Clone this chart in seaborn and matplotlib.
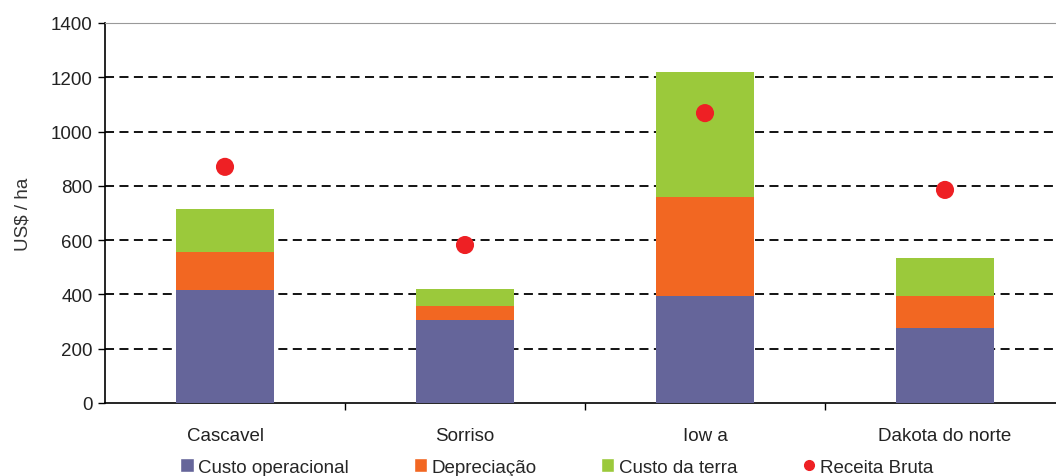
import numpy as np
import pandas as pd
import matplotlib
matplotlib.use('Agg')
import matplotlib.pyplot as plt
from matplotlib.patches import Patch
from matplotlib.lines import Line2D
import seaborn as sns

# data (US$ / ha)
regioes = ['Cascavel', 'Sorriso', 'Iow a', 'Dakota do norte']
custo_operacional = [415, 305, 395, 275]
depreciacao = [140, 53, 365, 120]
custo_terra = [160, 62, 460, 140]
receita_bruta = [870, 582, 1068, 785]

COR_OPER = '#65659a'
COR_DEPR = '#f26722'
COR_TERRA = '#9bc93b'
COR_REC = '#ee2024'

sns.set_style('white')
plt.rcParams['font.family'] = ['Liberation Sans', 'DejaVu Sans']
plt.rcParams['font.size'] = 13.5

df = pd.DataFrame({
    'regiao': regioes,
    'oper': custo_operacional,
    'depr': np.add(custo_operacional, depreciacao),
    'terra': np.add(np.add(custo_operacional, depreciacao), custo_terra),
    'receita': receita_bruta,
})

fig = plt.figure(figsize=(10.56, 4.77), dpi=100)
# axes runs a little past the right edge, like the source
ax = fig.add_axes([105 / 1056, (477 - 404) / 477, 960 / 1056, 380 / 477])

# stacked bars drawn as overlapping cumulative totals
for col, cor in [('terra', COR_TERRA), ('depr', COR_DEPR), ('oper', COR_OPER)]:
    sns.barplot(data=df, x='regiao', y=col, color=cor, width=0.41,
                saturation=1, linewidth=0, ax=ax, zorder=3)

sns.scatterplot(data=df, x='regiao', y='receita', color=COR_REC, s=170,
                edgecolor='none', ax=ax, zorder=4)

ax.set_ylim(0, 1400)
ax.set_xlim(-0.5, 3.5)
ax.set_yticks(range(0, 1401, 200))
for y in range(200, 1201, 200):
    ax.axhline(y, color='black', linestyle=(0, (5, 3)), linewidth=1.3, zorder=1)

ax.set_xlabel('')
ax.set_ylabel('US$ / ha', color='#333333', labelpad=14)
ax.tick_params(axis='y', left=True, length=5, width=1, color='black',
               labelcolor='#222222', pad=4)
ax.set_xticks([0.5, 1.5, 2.5], minor=True)
ax.tick_params(axis='x', which='major', bottom=False, pad=14, labelcolor='#222222')
ax.tick_params(axis='x', which='minor', bottom=True, length=5, width=1, color='black')

for s in ['left', 'bottom']:
    ax.spines[s].set_color('black')
    ax.spines[s].set_linewidth(1.2)
ax.spines['top'].set_color('#999999')
ax.spines['right'].set_visible(False)

handles = [
    Patch(facecolor=COR_OPER, label='Custo operacional'),
    Patch(facecolor=COR_DEPR, label='Depreciação'),
    Patch(facecolor=COR_TERRA, label='Custo da terra'),
    Line2D([], [], marker='o', linestyle='none', color=COR_REC,
           markersize=7, label='Receita Bruta'),
]
fig.legend(handles=handles, loc='center', bbox_to_anchor=(557 / 1056, 1 - 468 / 477),
           ncol=4, frameon=False, handlelength=0.7, handleheight=0.7,
           handletextpad=0.25, columnspacing=3.45)

fig.savefig('out.png', dpi=100)
